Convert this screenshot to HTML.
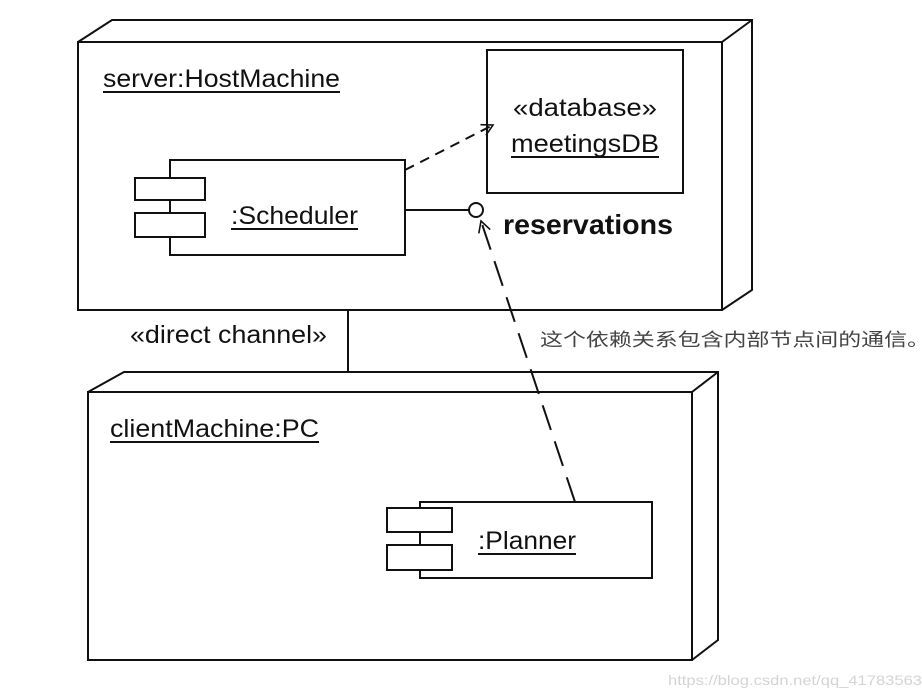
<!DOCTYPE html>
<html><head><meta charset="utf-8"><style>body{margin:0;background:#fff}svg{display:block}</style></head><body>
<svg width="922" height="697" viewBox="0 0 922 697" xmlns="http://www.w3.org/2000/svg" font-family="Liberation Sans, sans-serif">
<defs>
<marker id="oa" markerWidth="14" markerHeight="14" refX="12" refY="7" orient="auto" markerUnits="userSpaceOnUse">
<path d="M1,1 L12,7 L1,13" fill="none" stroke="#111" stroke-width="1.6"/>
</marker>
</defs>
<g fill="none" stroke="#111" stroke-width="2">
<rect x="78" y="42" width="644" height="268"/>
<path d="M78,42 L112,20 L752,20 L752,290 L722,310 M722,42 L752,20"/>
<rect x="487" y="50" width="196" height="143"/>
<rect x="170" y="160" width="235" height="95" fill="#fff"/>
<rect x="135" y="178" width="70" height="22" fill="#fff"/>
<rect x="135" y="213" width="70" height="24" fill="#fff"/>
<line x1="405" y1="210" x2="469" y2="210"/>
<circle cx="476" cy="210" r="7" fill="#fff"/>
<line x1="405" y1="170" x2="493" y2="125" stroke-dasharray="10,7" marker-end="url(#oa)"/>
<line x1="575" y1="502" x2="481" y2="221" stroke-dasharray="26,12" marker-end="url(#oa)"/>
<line x1="348" y1="310" x2="348" y2="372"/>
<rect x="88" y="392" width="604" height="268" fill="none"/>
<path d="M88,392 L124,372 L718,372 L718,640 L692,660 M692,392 L718,372"/>
<rect x="420" y="502" width="232" height="76" fill="#fff"/>
<rect x="387" y="508" width="65" height="24" fill="#fff"/>
<rect x="387" y="545" width="65" height="25" fill="#fff"/>
</g>
<g fill="#111" font-size="25">
<text x="103" y="87" textLength="237" lengthAdjust="spacingAndGlyphs">server:HostMachine</text>
<line x1="103" y1="92" x2="340" y2="92" stroke="#111" stroke-width="2"/>
<text x="513" y="116" textLength="144" lengthAdjust="spacingAndGlyphs">«database»</text>
<text x="511" y="152" textLength="148" lengthAdjust="spacingAndGlyphs">meetingsDB</text>
<line x1="511" y1="157" x2="659" y2="157" stroke="#111" stroke-width="2"/>
<text x="231" y="224" textLength="127" lengthAdjust="spacingAndGlyphs">:Scheduler</text>
<line x1="231" y1="229" x2="358" y2="229" stroke="#111" stroke-width="2"/>
<text x="503" y="234" font-size="28" font-weight="bold" textLength="170" lengthAdjust="spacingAndGlyphs">reservations</text>
<text x="130" y="343" textLength="197" lengthAdjust="spacingAndGlyphs">«direct channel»</text>
<text x="110" y="437" textLength="209" lengthAdjust="spacingAndGlyphs">clientMachine:PC</text>
<line x1="110" y1="442" x2="319" y2="442" stroke="#111" stroke-width="2"/>
<text x="478" y="549" textLength="98" lengthAdjust="spacingAndGlyphs">:Planner</text>
<line x1="478" y1="554" x2="576" y2="554" stroke="#111" stroke-width="2"/>
</g>
<text x="540" y="346" font-size="18" fill="#444" font-family="Liberation Sans, Noto Sans CJK SC, sans-serif" textLength="390" lengthAdjust="spacingAndGlyphs">这个依赖关系包含内部节点间的通信。</text>
<text x="668" y="685" font-size="14" fill="#d4d4d4" textLength="254" lengthAdjust="spacingAndGlyphs">https://blog.csdn.net/qq_41783563</text>
</svg>
</body></html>
